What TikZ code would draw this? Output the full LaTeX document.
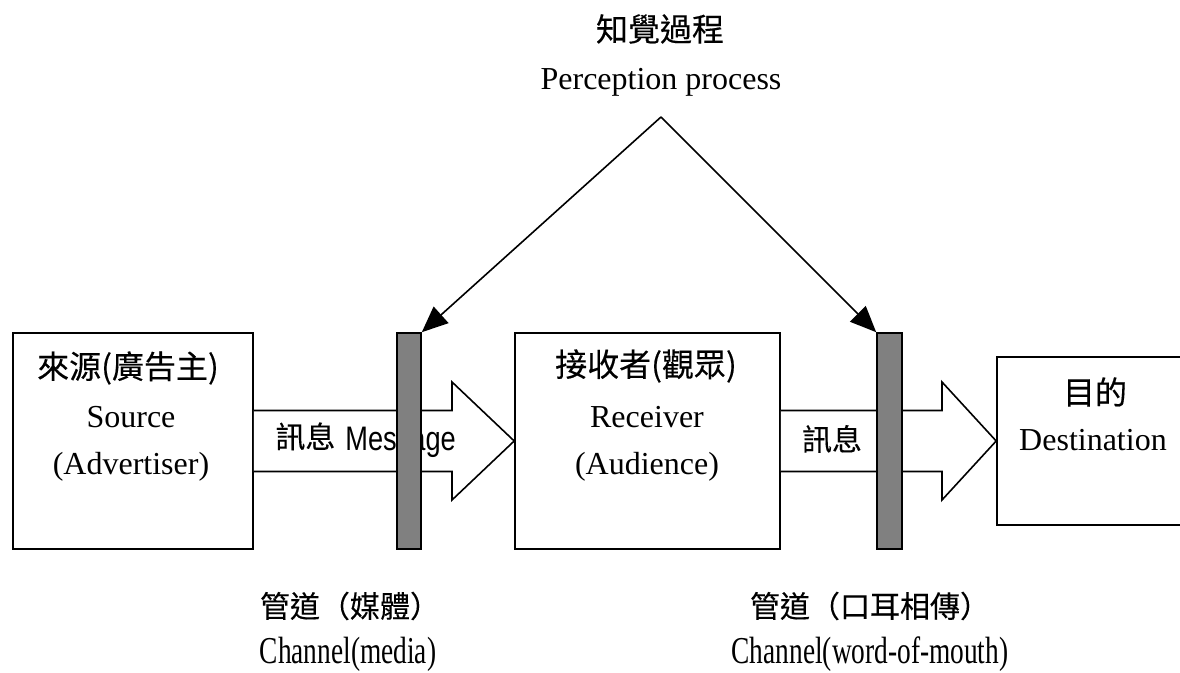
\documentclass[tikz,border=0pt]{standalone}
\usepackage{fontspec}
\setmainfont{Liberation Serif}
\newfontfamily\cjk[FakeBold=0.3]{Noto Sans CJK TC}
\newfontfamily\narrowsans[FakeStretch=0.8]{Liberation Sans}
\newfontfamily\narrowserif[FakeStretch=0.72]{Liberation Serif}
\usetikzlibrary{arrows.meta,calc}
\tikzset{
  box/.style={draw, line width=0.8pt, fill=white, inner sep=0pt},
  chan/.style={draw, line width=0.8pt, fill=black!50, inner sep=0pt, minimum width=12pt, minimum height=108pt},
  blk/.style={draw, line width=0.8pt, fill=white, line join=miter},
  perc/.style={line width=0.8pt, -{Triangle[length=13pt,width=11pt]}},
  txt/.style={inner sep=0pt, font=\fontsize{16}{19}\selectfont},
  ctxt/.style={inner sep=0pt, font=\fontsize{16}{19}\selectfont\cjk},
  sctxt/.style={inner sep=0pt, font=\fontsize{15}{18}\selectfont\cjk},
  btxt/.style={inner sep=0pt, font=\fontsize{19}{22}\selectfont\narrowserif},
  mtxt/.style={inner sep=0pt, font=\fontsize{17}{20}\selectfont\narrowsans},
}
\begin{document}
\begin{tikzpicture}[x=0.5pt,y=-0.5pt]
\clip (0,0) rectangle (1180,673);
\fill[white] (0,0) rectangle (1180,673);
% boxes
\node[box, minimum width=120pt, minimum height=108pt] (src) at (133,441) {};
\node[box, minimum width=132.5pt, minimum height=108pt] (rcv) at (647.5,441) {};
\node[box, minimum width=99pt, minimum height=84pt] (dst) at (1096,441) {};
% block arrows
\draw[blk] ($(src.east)+(0,-30.5)$) -- (452,410.5) -- (452,382) -- (rcv.west) -- (452,500) -- (452,471.5) -- ($(src.east)+(0,30.5)$);
\draw[blk] ($(rcv.east)+(0,-30.5)$) -- (942,410.5) -- (942,382) -- (dst.west) -- (942,500) -- (942,471.5) -- ($(rcv.east)+(0,30.5)$);
% message labels
\node[sctxt, anchor=base west] (m1c) at (275,448) {訊息};
\node[mtxt, anchor=base west] (m1e) at (345,451) {Message};
\node[sctxt] (m2c) at (832,439) {訊息};
% channels
\node[chan] (ch1) at (409,441) {};
\node[chan, minimum width=12.5pt] (ch2) at (889.5,441) {};
% perception
\node[ctxt] (pc) at (660,29) {知覺過程};
\node[txt, anchor=base] (pe) at (661,90) {Perception process};
\coordinate (apex) at (661,117);
\draw[perc] (apex) -- (ch1.north east);
\draw[perc] (apex) -- (ch2.north west);
% box texts
\node[ctxt] (sc) at (128,368) {來源(廣告主)};
\node[txt, anchor=base] (se1) at (131,428) {Source};
\node[txt, anchor=base] (se2) at (131,475) {(Advertiser)};
\node[ctxt] (rc) at (646,366) {接收者(觀眾)};
\node[txt, anchor=base] (re1) at (647,428) {Receiver};
\node[txt, anchor=base] (re2) at (647,475) {(Audience)};
\node[ctxt] (dc) at (1095,392) {目的};
\node[txt, anchor=base] (de) at (1093,451) {Destination};
% bottom labels
\node[sctxt] (b1c) at (350,606) {管道（媒體）};
\node[btxt, anchor=base] (b1e) at (348,664) {Channel(media)};
\node[sctxt] (b2c) at (870,606) {管道（口耳相傳）};
\node[btxt, anchor=base] (b2e) at (870,664) {Channel(word-of-mouth)};
\end{tikzpicture}
\end{document}
